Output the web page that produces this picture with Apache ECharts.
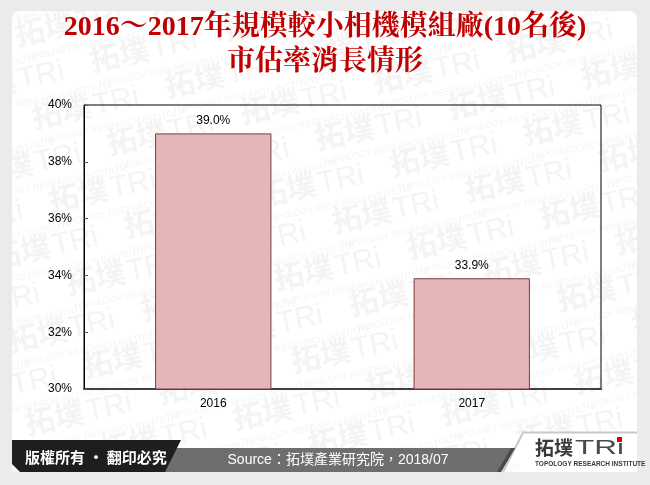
<!DOCTYPE html>
<html><head><meta charset="utf-8">
<script src="https://cdn.jsdelivr.net/npm/echarts@6/dist/echarts.min.js"></script>
<style>html,body{margin:0;padding:0;background:#EBEBEB}#c{width:650px;height:485px}</style>
</head><body><div id="c"></div>
<script>
const categories = ['2016', '2017'];
const shareValues = [39.0, 33.9];
const yAxisRange = { min: 30, max: 40, interval: 2 };
const titleLine1 = '2016～2017年規模較小相機模組廠(10名後)';
const titleLine2 = '市估率消長情形';
const footerLeft = '版權所有 · 翻印必究';
const footerSource = 'Source：拓墣產業研究院，2018/07';

const chart = echarts.init(document.getElementById('c'), null, { renderer: 'canvas' });

// decorative watermark tiles
const wm = [];
for (let i = -8; i < 14; i++) {
  for (let j = -4; j < 9; j++) {
    const x = 12 + i * 75 + j * 17;
    const y = 20 + i * 26 + j * 83;
    if (x < -130 || x > 650 || y < -30 || y > 500) continue;
    wm.push({
      type: 'group', x: x, y: y, rotation: 0.21, z: -9, silent: true,
      children: [
        { type: 'text', z: -9, style: { text: '拓墣', x: 0, y: 0, fill: '#F4F4F4', font: 'bold 30px "Noto Sans CJK TC"' } },
        { type: 'text', z: -9, style: { text: 'TRi', x: 62, y: 2, fill: '#F4F4F4', font: '30px "Liberation Sans"' } },
        { type: 'text', z: -9, style: { text: 'TOPOLOGY RESEARCH INSTITUTE', x: 2, y: 36, fill: '#F4F4F4', font: '9px "Liberation Sans"' } }
      ]
    });
  }
}

const graphics = [
  { type: 'rect', z: -10, silent: true, shape: { x: 12, y: 11, width: 625, height: 461, r: 8 }, style: { fill: '#FFFFFF' } }
].concat(wm).concat([
  { type: 'rect', z: -8, silent: true, shape: { x: 0, y: 0, width: 650, height: 11 }, style: { fill: '#EBEBEB' } },
  { type: 'rect', z: -8, silent: true, shape: { x: 0, y: 472, width: 650, height: 13 }, style: { fill: '#EBEBEB' } },
  { type: 'rect', z: -8, silent: true, shape: { x: 0, y: 0, width: 12, height: 485 }, style: { fill: '#EBEBEB' } },
  { type: 'rect', z: -8, silent: true, shape: { x: 637, y: 0, width: 13, height: 485 }, style: { fill: '#EBEBEB' } },
  // footer
  { type: 'rect', z: 20, silent: true, shape: { x: 520, y: 432, width: 117, height: 40 }, style: { fill: '#FFFFFF' } },
  { type: 'polyline', z: 21, silent: true, shape: { points: [[503, 472], [523, 432.5], [637, 432.5]] }, style: { stroke: '#C8C8C8', lineWidth: 2, fill: null } },
  { type: 'polygon', z: 21, silent: true, shape: { points: [[160, 448], [515, 448], [501, 472], [150, 472]] }, style: { fill: '#6E6E6E' } },
  { type: 'polygon', z: 21, silent: true, shape: { points: [[511, 448], [515, 448], [501, 472], [497, 472]] }, style: { fill: '#4A4A4A' } },
  { type: 'polygon', z: 22, silent: true, shape: { points: [[12, 440], [181, 440], [165, 472], [20, 472], [12, 464]] }, style: { fill: '#1E1E1E' } },
  { type: 'text', z: 23, silent: true, style: { text: footerLeft, x: 25, y: 457, fill: '#FFFFFF', font: 'bold 15px "Noto Sans CJK TC"', textVerticalAlign: 'middle' } },
  { type: 'text', z: 23, silent: true, style: { text: footerSource, x: 338, y: 460, fill: '#FFFFFF', font: '14px "Liberation Sans", "Noto Sans CJK TC"', textAlign: 'center', textVerticalAlign: 'middle' } },
  { type: 'text', z: 23, silent: true, style: { text: '拓墣', x: 535, y: 448, fill: '#3A3A3A', font: 'bold 19px "Noto Sans CJK TC"', textVerticalAlign: 'middle' } },
  { type: 'group', z: 23, silent: true, x: 575, y: 448, scaleX: 1.5, children: [
    { type: 'text', z: 23, style: { text: 'TRi', x: 0, y: 0, fill: '#4A4A4A', font: '21px "Liberation Sans"', textVerticalAlign: 'middle' } }
  ] },
  { type: 'rect', z: 24, silent: true, shape: { x: 617, y: 437, width: 5, height: 5 }, style: { fill: '#E00000' } },
  { type: 'text', z: 23, silent: true, style: { text: 'TOPOLOGY RESEARCH INSTITUTE', x: 535, y: 464, fill: '#3A3A3A', font: 'bold 6.5px "Liberation Sans"', textVerticalAlign: 'middle' } }
]);

const titleFont = '"Liberation Serif", "Noto Serif CJK TC", "Noto Sans CJK TC", serif';
chart.setOption({
  animation: false,
  title: [
    { text: titleLine1, left: 'center', top: 9, textStyle: { fontSize: 28, fontWeight: 'bold', color: '#C00000', fontFamily: titleFont } },
    { text: titleLine2, left: 'center', top: 44, textStyle: { fontSize: 28, fontWeight: 'bold', color: '#C00000', fontFamily: titleFont } }
  ],
  graphic: { elements: graphics },
  grid: { left: 84, right: 49, top: 105, bottom: 96, show: true, borderColor: '#000', borderWidth: 1, backgroundColor: 'transparent', containLabel: false },
  xAxis: {
    type: 'category', data: categories,
    axisLine: { show: true, lineStyle: { color: '#404040', width: 2 } },
    axisTick: { show: false },
    axisLabel: { margin: 9, fontSize: 12, color: '#000', fontFamily: '"Liberation Sans", Arial' },
    splitLine: { show: false }
  },
  yAxis: {
    type: 'value', min: yAxisRange.min, max: yAxisRange.max, interval: yAxisRange.interval,
    axisLine: { show: true, lineStyle: { color: '#000', width: 1 } },
    axisTick: { show: true, inside: true, length: 4, lineStyle: { color: '#555' } },
    axisLabel: { margin: 12, fontSize: 12, color: '#000', fontFamily: '"Liberation Sans", Arial', formatter: '{value}%' },
    splitLine: { show: false }
  },
  series: [{
    type: 'bar', data: shareValues, barWidth: '45%',
    itemStyle: { color: '#E4B6B7', borderColor: '#7E3B3B', borderWidth: 1 },
    label: { show: true, position: 'top', distance: 7, fontSize: 12, color: '#000', fontFamily: '"Liberation Sans", Arial',
      formatter: p => p.value.toFixed(1) + '%' }
  }]
});
</script></body></html>
